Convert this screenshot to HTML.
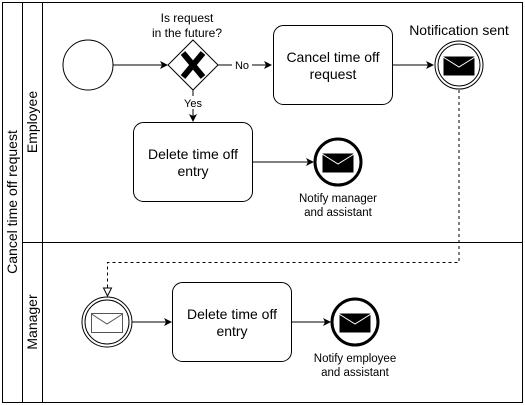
<!DOCTYPE html>
<html><head><style>body{margin:0;background:#fff}svg{display:block}text{font-family:"Liberation Sans",Arial,sans-serif;fill:#000}</style></head><body>
<svg width="525" height="405" viewBox="0 0 525 405">
<defs>
<marker id="a" markerWidth="8" markerHeight="8" refX="7" refY="4" orient="auto" markerUnits="userSpaceOnUse"><path d="M0,0 L8,4 L0,8 L2,4 Z" fill="#000"/></marker>
<marker id="o" markerWidth="10" markerHeight="10" refX="9" refY="5" orient="auto" markerUnits="userSpaceOnUse"><path d="M1,1 L9,5 L1,9 Z" fill="#fff" stroke="#000"/></marker>
</defs>
<g fill="none" stroke="#000" stroke-width="1">
<rect x="2.5" y="2.5" width="520" height="400"/>
<line x1="22.5" y1="2.5" x2="22.5" y2="402.5"/>
<line x1="42.5" y1="2.5" x2="42.5" y2="402.5"/>
<line x1="22.5" y1="242.5" x2="522.5" y2="242.5"/>
<circle cx="88" cy="65" r="25"/>
<line x1="113" y1="65" x2="167" y2="65" marker-end="url(#a)"/>
<path d="M193,40 L218,65 L193,90 L168,65 Z"/>
<line x1="218" y1="65" x2="232" y2="65"/>
<line x1="252" y1="65" x2="271" y2="65" marker-end="url(#a)"/>
<rect x="273.5" y="25.5" width="119" height="79" rx="10"/>
<line x1="393" y1="65" x2="433" y2="65" marker-end="url(#a)"/>
<circle cx="459" cy="65" r="24"/><circle cx="459" cy="65" r="21"/>
<line x1="193" y1="90" x2="193" y2="96"/>
<line x1="193" y1="109" x2="193" y2="121" marker-end="url(#a)"/>
<rect x="133.5" y="122.5" width="119" height="79" rx="10"/>
<line x1="253" y1="162" x2="313" y2="162" marker-end="url(#a)"/>
<circle cx="338" cy="162" r="23" stroke-width="3"/>
<path d="M459,90 V262.5 H107.5 V296" stroke-dasharray="3,3" marker-end="url(#o)"/>
<circle cx="107" cy="322" r="25"/><circle cx="107" cy="322" r="22"/>
<line x1="132" y1="322" x2="171" y2="322" marker-end="url(#a)"/>
<rect x="172.5" y="282.5" width="119" height="79" rx="10"/>
<line x1="292" y1="322" x2="330" y2="322" marker-end="url(#a)"/>
<circle cx="355" cy="322" r="23" stroke-width="3"/>
</g>
<path d="M183,53 L203,77 M203,53 L183,77" stroke="#000" stroke-width="6"/>
<g stroke="#fff" stroke-width="1">
<rect x="443" y="56" width="32" height="20" fill="#000"/><path d="M443,57 L459,67 L475,57" fill="none"/>
<rect x="322" y="153" width="32" height="20" fill="#000"/><path d="M322,154 L338,164 L354,154" fill="none"/>
<rect x="339" y="313" width="32" height="20" fill="#000"/><path d="M339,314 L355,324 L371,314" fill="none"/>
</g>
<rect x="91.5" y="313.5" width="31" height="19" fill="#fff" stroke="#555"/><path d="M91.5,314 L107,324 L122.5,314" fill="none" stroke="#555"/>
<g font-size="12" text-anchor="middle">
<text x="187" y="22">Is request</text><text x="187" y="37">in the future?</text>
<text x="242" y="69" font-size="11">No</text>
<text x="193" y="107" font-size="11">Yes</text>
<text x="333" y="62" font-size="14">Cancel time off</text><text x="333" y="79" font-size="14">request</text>
<text x="459" y="35" font-size="14">Notification sent</text>
<text x="193" y="159" font-size="14">Delete time off</text><text x="193" y="176" font-size="14">entry</text>
<text x="338" y="202" font-size="11.5">Notify manager</text><text x="338" y="216" font-size="11.5">and assistant</text>
<text x="232" y="319" font-size="14">Delete time off</text><text x="232" y="336" font-size="14">entry</text>
<text x="355" y="362" font-size="11.5">Notify employee</text><text x="355" y="376" font-size="11.5">and assistant</text>
<text transform="translate(17,202) rotate(-90)" font-size="14">Cancel time off request</text>
<text transform="translate(37,122) rotate(-90)" font-size="14">Employee</text>
<text transform="translate(37,322) rotate(-90)" font-size="14">Manager</text>
</g>
</svg>
</body></html>
